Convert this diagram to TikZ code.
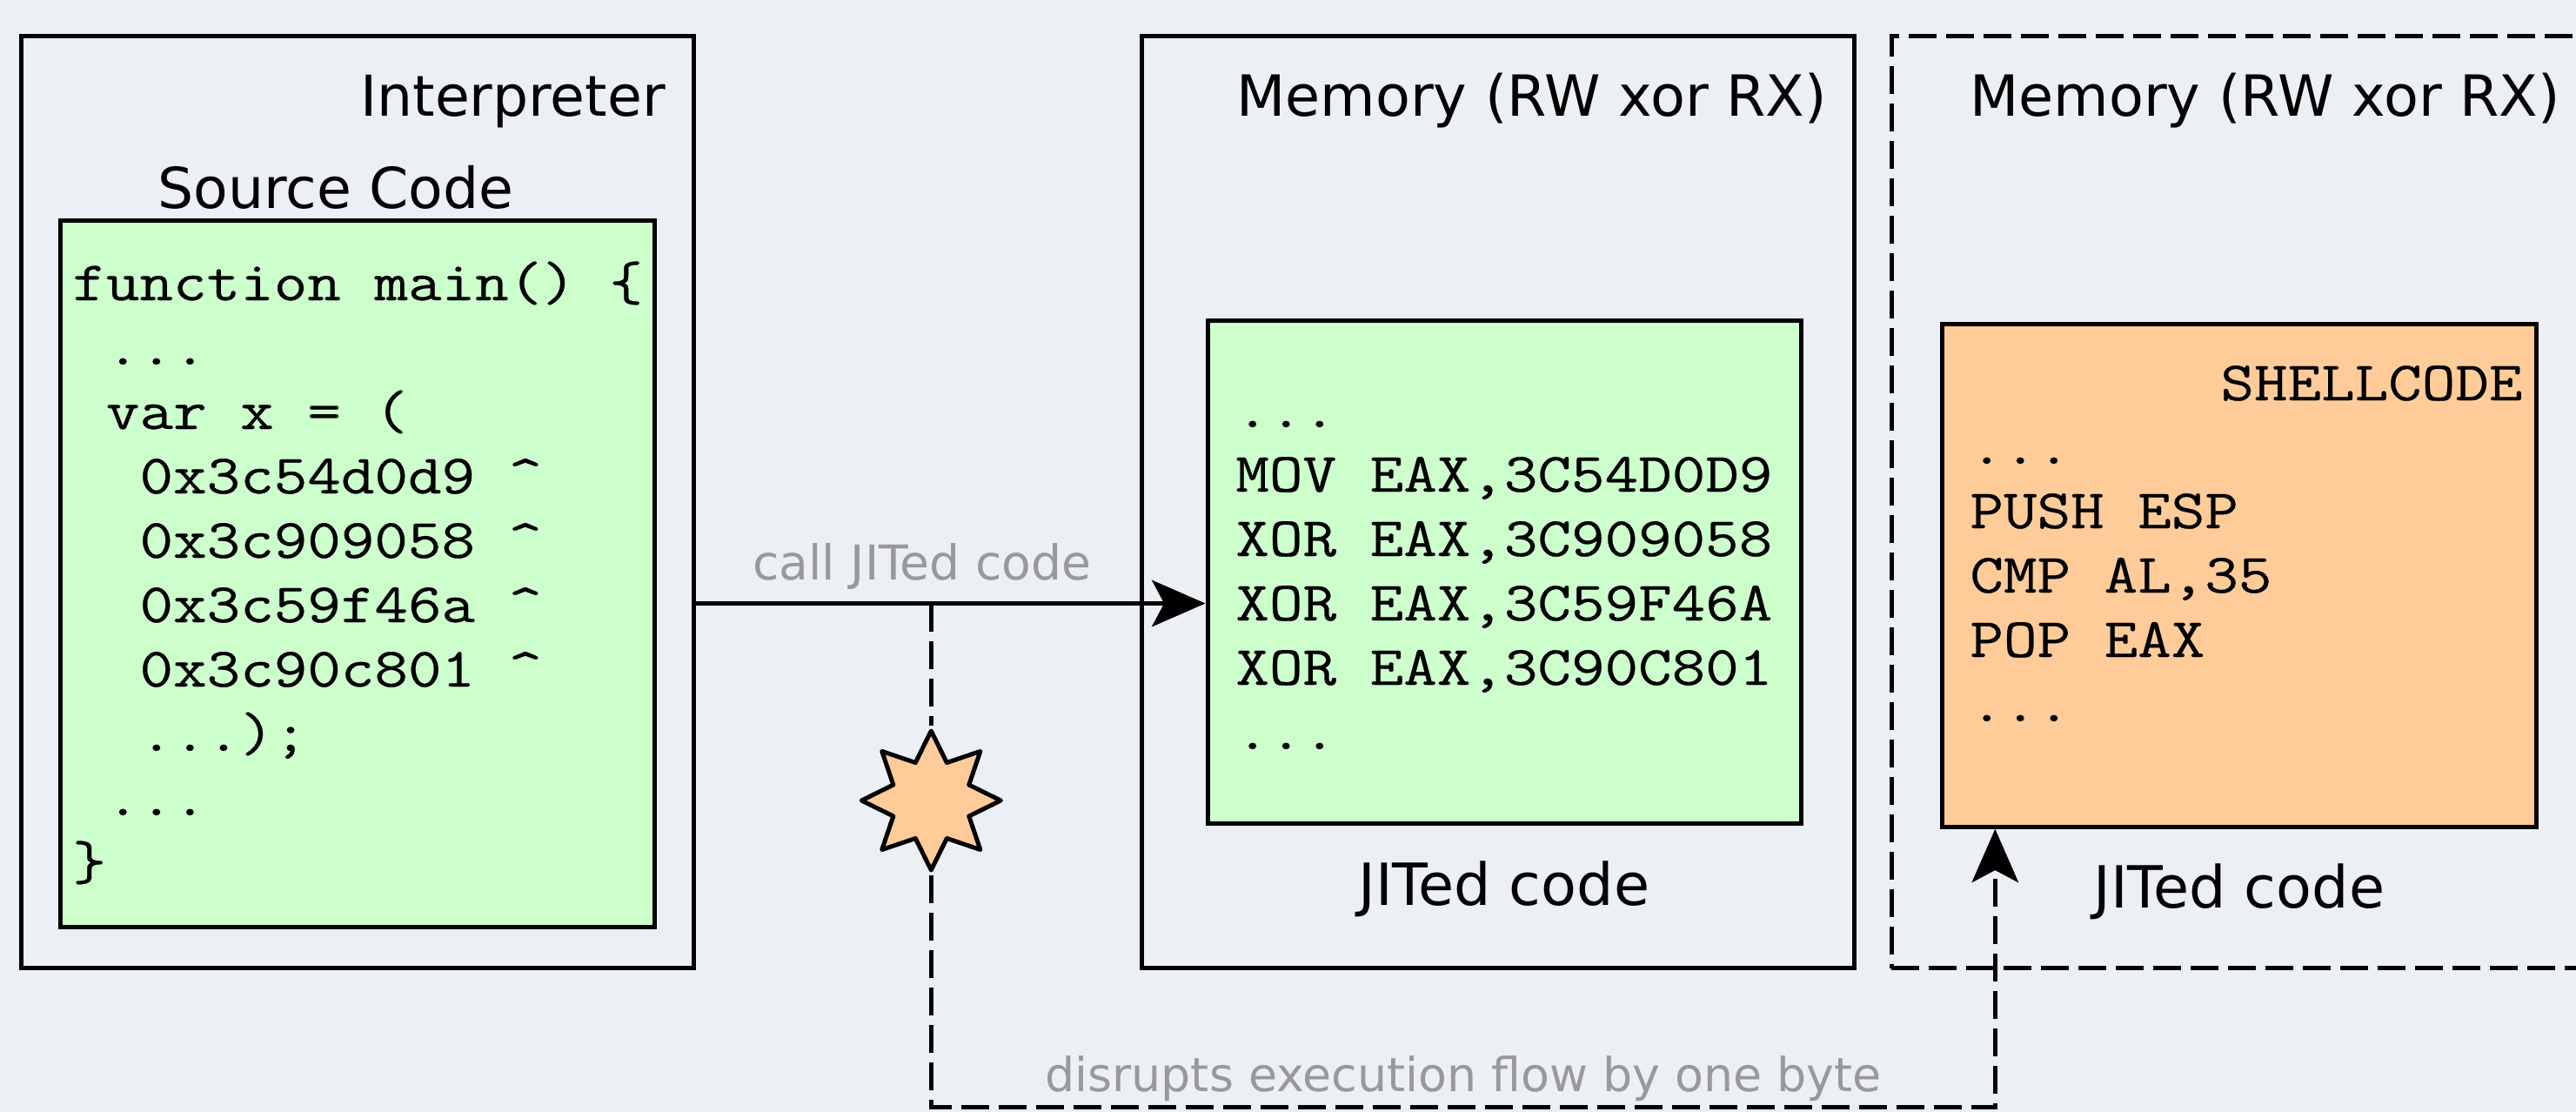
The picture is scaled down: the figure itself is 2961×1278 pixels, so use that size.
\documentclass[tikz,border=0pt]{standalone}
\usepackage{fontspec}
\setmainfont{DejaVu Sans}
\newfontfamily\codefont[FakeStretch=1.17,FakeBold=0.4]{Latin Modern Mono}
\usetikzlibrary{arrows.meta,shapes.geometric}
\definecolor{bgc}{HTML}{ECEFF4}
\definecolor{codegreen}{HTML}{CCFFCC}
\definecolor{codeorange}{HTML}{FFCC99}
\definecolor{labelgrey}{HTML}{999999}
\tikzset{
  x=0.5pt,y=-0.5pt,
  frame/.style={draw=black,line width=2.5pt,rectangle,inner sep=0pt},
  dashpat/.style={dash pattern=on 16pt off 5.5pt},
  title/.style={anchor=base west,inner sep=0pt,font=\fontsize{#1}{37}\selectfont},
  title/.default=32.6,
  edgelabel/.style={anchor=base west,inner sep=0pt,text=labelgrey,font=\fontsize{#1}{30}\selectfont},
  code/.style={anchor=base west,inner sep=0pt,align=left,font=\fontsize{32}{37}\selectfont\codefont},
  wire/.style={line width=2.5pt},
  tip/.style={-{Stealth[length=30.7pt,width=26.7pt,inset=7pt]}},
}
\begin{document}
\begin{tikzpicture}
\fill[bgc] (0,0) rectangle (2961,1278);
\useasboundingbox (0,0) rectangle (2961,1278);
% boxes
\node[frame,minimum width=386.5pt,minimum height=535.5pt] (interp) at (410.5,577.2) {};
\node[frame,fill=codegreen,minimum width=341.5pt,minimum height=405.75pt] (source) at (411,659.75) {};
\node[frame,minimum width=409.5pt,minimum height=535.5pt] (mem) at (1721.5,577.2) {};
\node[frame,fill=codegreen,minimum width=341pt,minimum height=288.75pt] (jit) at (1729,657.75) {};
\node[frame,dashpat,minimum width=400.9pt,minimum height=535.5pt] (memd) at (2574.9,577.2) {};
\node[frame,fill=codeorange,minimum width=341.5pt,minimum height=289pt] (shell) at (2573.5,661.2) {};
% titles
\node[title=32.4] (tinterp) at (414,133.5) {Interpreter};
\node[title=32.4] (tsource) at (181,240) {Source Code};
\node[title] (tmem) at (1421,133.5) {Memory (RW xor RX)};
\node[title] (tmemd) at (2264,133.5) {Memory (RW xor RX)};
\node[title=33.4] (tjit) at (1561,1040) {JITed code};
\node[title=33.4] (tjitd) at (2406,1043) {JITed code};
% code
\node[code] (csource) at (83,1011) {function main() \{\\
~...\\
~var x = (\\
~~0x3c54d0d9 \textasciicircum\\
~~0x3c909058 \textasciicircum\\
~~0x3c59f46a \textasciicircum\\
~~0x3c90c801 \textasciicircum\\
~~...);\\
~...\\
\}};
\node[code] (cjit) at (1420,861) {...\\
MOV EAX,3C54D0D9\\
XOR EAX,3C909058\\
XOR EAX,3C59F46A\\
XOR EAX,3C90C801\\
...};
\node[code] (cshellhead) at (2552,460) {SHELLCODE};
\node[code] (cshell) at (2264,829) {...\\
PUSH ESP\\
CMP AL,35\\
POP EAX\\
...};
% connectors
\coordinate (callstart) at (797,693.5);
\coordinate (callmid) at (1070.3,693.5);
\coordinate (lowL) at (1070.3,1272.3);
\coordinate (lowR) at (2293.3,1272.3);
\draw[wire,tip] (callstart) -- (callstart -| jit.west);
\node[star,star points=8,star point ratio=1.7,draw=black,fill=codeorange,line width=2.5pt,line join=round,inner sep=0pt,minimum size=80pt] (flaw) at (1070.3,920) {};
\draw[wire,dashpat] (callmid) -- (flaw.north);
\draw[wire,dashpat,tip] (flaw.south) -- (lowL) -- (lowR) -- (lowR |- shell.south);
\node[edgelabel=27.6] (lcall) at (865,666.5) {call JITed code};
\node[edgelabel=26.9] (ldisrupt) at (1201,1254) {disrupts execution flow by one byte};
\end{tikzpicture}
\end{document}
